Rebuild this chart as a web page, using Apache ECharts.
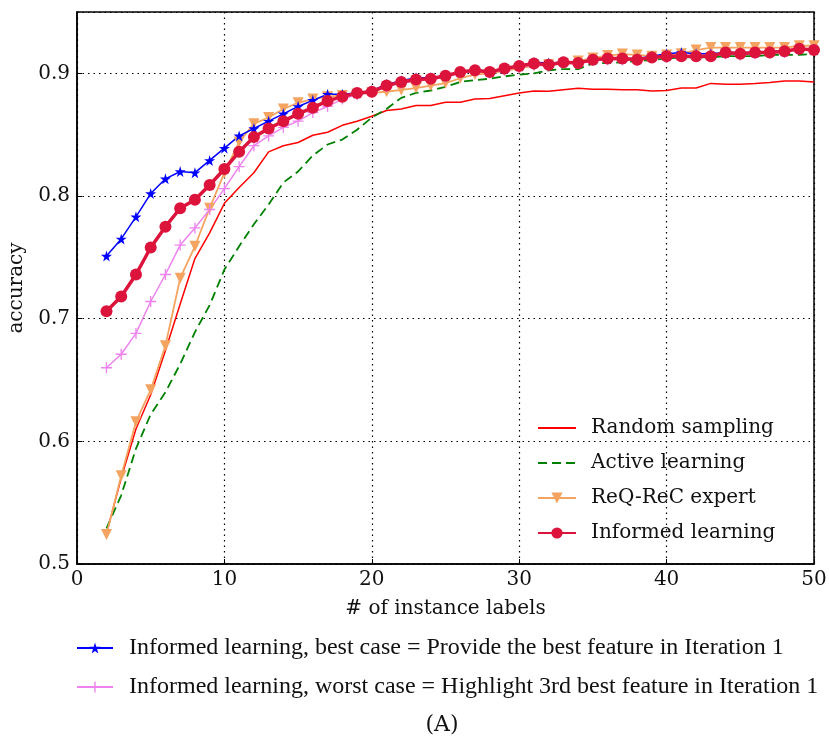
<!DOCTYPE html>
<html>
<head>
<meta charset="utf-8">
<script src="https://cdn.jsdelivr.net/npm/echarts@6/dist/echarts.min.js"></script>
<style>
  html, body { margin: 0; padding: 0; background: #fff; }
  #main { width: 829px; height: 740px; }
</style>
</head>
<body>
<div id="main"></div>
<script>
// number of instance labels
const xLabels = [2, 3, 4, 5, 6, 7, 8, 9, 10, 11, 12, 13, 14, 15, 16, 17, 18, 19, 20, 21, 22, 23, 24, 25, 26,
  27, 28, 29, 30, 31, 32, 33, 34, 35, 36, 37, 38, 39, 40, 41, 42, 43, 44, 45, 46, 47, 48, 49, 50];

const randomSampling = [0.525, 0.570, 0.610, 0.638, 0.674, 0.712, 0.749, 0.770, 0.794, 0.807, 0.819, 0.836, 0.841,
  0.8436, 0.8495, 0.852, 0.8576, 0.861, 0.865, 0.8697, 0.871, 0.8737, 0.8737, 0.8764, 0.8764, 0.879, 0.8794,
  0.8818, 0.884, 0.8856, 0.8853, 0.8867, 0.8878, 0.887, 0.887, 0.8867, 0.8866, 0.8856, 0.886, 0.888, 0.888,
  0.8918, 0.8912, 0.8912, 0.8918, 0.8925, 0.8937, 0.8937, 0.893];

const activeLearning = [0.529, 0.556, 0.594, 0.622, 0.640, 0.663, 0.689, 0.711, 0.740, 0.759, 0.777, 0.793, 0.811,
  0.820, 0.833, 0.842, 0.846, 0.854, 0.864, 0.871, 0.880, 0.884, 0.886, 0.889, 0.893, 0.8945, 0.8956, 0.8975,
  0.899, 0.900, 0.9025, 0.9035, 0.9035, 0.908, 0.9085, 0.909, 0.910, 0.911, 0.912, 0.913, 0.913, 0.913, 0.914,
  0.914, 0.914, 0.915, 0.915, 0.915, 0.916];

const reqrecExpert = [0.524, 0.572, 0.616, 0.642, 0.678, 0.733, 0.759, 0.790, 0.819, 0.844, 0.859, 0.864, 0.871,
  0.876, 0.879, 0.881, 0.882, 0.883, 0.884, 0.885, 0.8865, 0.888, 0.890, 0.892, 0.896, 0.899, 0.900, 0.902,
  0.904, 0.906, 0.907, 0.908, 0.910, 0.9125, 0.9145, 0.9157, 0.915, 0.914, 0.915, 0.916, 0.919, 0.921, 0.921,
  0.921, 0.921, 0.921, 0.921, 0.9225, 0.9225];

const informed = [0.706, 0.718, 0.736, 0.758, 0.775, 0.790, 0.797, 0.809, 0.822, 0.836, 0.848, 0.855, 0.861,
  0.867, 0.872, 0.8775, 0.881, 0.884, 0.885, 0.890, 0.893, 0.895, 0.8956, 0.898, 0.901, 0.9026, 0.901, 0.904,
  0.906, 0.908, 0.907, 0.909, 0.9085, 0.911, 0.912, 0.912, 0.911, 0.913, 0.914, 0.914, 0.914, 0.914, 0.917,
  0.916, 0.917, 0.917, 0.918, 0.920, 0.919];

const bestCase = [0.751, 0.765, 0.783, 0.802, 0.814, 0.820, 0.819, 0.829, 0.839, 0.849, 0.855, 0.861, 0.867,
  0.873, 0.878, 0.883, 0.883, 0.884, 0.886, 0.891, 0.894, 0.8965, 0.8965, 0.898, 0.901, 0.9025, 0.902, 0.904,
  0.906, 0.909, 0.9085, 0.909, 0.909, 0.911, 0.912, 0.912, 0.912, 0.914, 0.916, 0.917, 0.916, 0.916, 0.917,
  0.917, 0.917, 0.918, 0.918, 0.920, 0.919];

const worstCase = [0.660, 0.671, 0.688, 0.714, 0.736, 0.760, 0.774, 0.789, 0.806, 0.824, 0.841, 0.849, 0.856,
  0.861, 0.868, 0.873, 0.879, 0.8825, 0.8845, 0.889, 0.892, 0.894, 0.895, 0.897, 0.900, 0.902, 0.9005, 0.903,
  0.905, 0.907, 0.906, 0.909, 0.908, 0.9105, 0.911, 0.911, 0.911, 0.913, 0.913, 0.914, 0.914, 0.914, 0.916,
  0.915, 0.916, 0.9165, 0.917, 0.920, 0.919];

const FONT = '"DejaVu Serif", serif';
const NARROW = '"Liberation Serif", serif';
const STAR = 'path://M50,0 L61,35 L98,35 L68,57 L79,91 L50,70 L21,91 L32,57 L2,35 L39,35 Z';
const PLUS = 'path://M44,0 H56 V44 H100 V56 H56 V100 H44 V56 H0 V44 H44 Z';

const pairs = ys => ys.map((y, i) => [xLabels[i], y]);

const chart = echarts.init(document.getElementById('main'), null, { renderer: 'canvas' });

const option = {
  backgroundColor: '#fff',
  animation: false,
  textStyle: { fontFamily: FONT },
  grid: {
    left: 77, top: 12, width: 737, height: 552, show: true, borderColor: '#000', borderWidth: 1.5,
    outerBoundsMode: 'none', containLabel: false
  },
  legend: [
    {
      data: [
        { name: 'Random sampling', itemStyle: { opacity: 0 } },
        { name: 'Active learning', itemStyle: { opacity: 0 } },
        'ReQ-ReC expert', 'Informed learning'
      ],
      orient: 'vertical', left: 537, top: 416, padding: 0,
      itemWidth: 38, itemHeight: 14, itemGap: 11,
      textStyle: { fontFamily: FONT, fontSize: 20, color: '#111', lineHeight: 24, padding: [0, 0, 0, 10] }
    },
    {
      data: ['Informed learning, best case = Provide the best feature in Iteration 1',
        'Informed learning, worst case = Highlight 3rd best feature in Iteration 1'],
      orient: 'vertical', left: 76, top: 635, padding: 0,
      itemWidth: 36, itemHeight: 14, itemGap: 13,
      textStyle: { fontFamily: NARROW, fontSize: 24, color: '#111', lineHeight: 26, padding: [0, 0, 0, 11] }
    }
  ],
  xAxis: {
    type: 'value', min: 0, max: 50, interval: 10,
    name: '# of instance labels', nameLocation: 'middle', nameGap: 35,
    nameTextStyle: { fontFamily: FONT, fontSize: 20, color: '#111' },
    axisLine: { lineStyle: { color: '#000', width: 1.5 } },
    axisTick: { inside: true, length: 5, lineStyle: { color: '#000' } },
    axisLabel: { fontFamily: FONT, fontSize: 20, color: '#111', margin: 6 },
    splitLine: { lineStyle: { color: '#000', type: [1.5, 4], width: 1.2 } }
  },
  yAxis: {
    type: 'value', min: 0.5, max: 0.95, interval: 0.1,
    name: 'accuracy', nameLocation: 'middle', nameGap: 43,
    nameTextStyle: { fontFamily: FONT, fontSize: 20, color: '#111' },
    axisLine: { lineStyle: { color: '#000', width: 1.5 } },
    axisTick: { inside: true, length: 5, lineStyle: { color: '#000' } },
    axisLabel: { fontFamily: FONT, fontSize: 20, color: '#111', margin: 7, showMaxLabel: false },
    splitLine: { lineStyle: { color: '#000', type: [1.5, 4], width: 1.2 } }
  },
  series: [
    {
      name: 'Random sampling', type: 'line', data: pairs(randomSampling),
      symbol: 'none', color: '#ff0000', lineStyle: { width: 1.5 }
    },
    {
      name: 'Active learning', type: 'line', data: pairs(activeLearning),
      symbol: 'none', color: '#008000', lineStyle: { width: 1.8, type: [9, 5] }
    },
    {
      name: 'ReQ-ReC expert', type: 'line', data: pairs(reqrecExpert),
      symbol: 'triangle', symbolRotate: 180, symbolSize: 11, color: '#f4a460', lineStyle: { width: 1.8 }
    },
    {
      name: 'Informed learning, best case = Provide the best feature in Iteration 1', type: 'line',
      data: pairs(bestCase), symbol: STAR, symbolSize: 11, color: '#0000ff', lineStyle: { width: 1.5 }
    },
    {
      name: 'Informed learning, worst case = Highlight 3rd best feature in Iteration 1', type: 'line',
      data: pairs(worstCase), symbol: PLUS, symbolSize: 11, color: '#ee82ee', lineStyle: { width: 1.5 }
    },
    {
      name: 'Informed learning', type: 'line', data: pairs(informed),
      symbol: 'circle', symbolSize: 12, color: '#dc143c', lineStyle: { width: 3.5 }
    }
  ],
  graphic: [
    {
      type: 'text', x: 442, y: 714,
      style: { text: '(A)', font: '22px ' + FONT, fill: '#111', textAlign: 'center' }
    }
  ]
};

chart.setOption(option);
</script>
</body>
</html>
